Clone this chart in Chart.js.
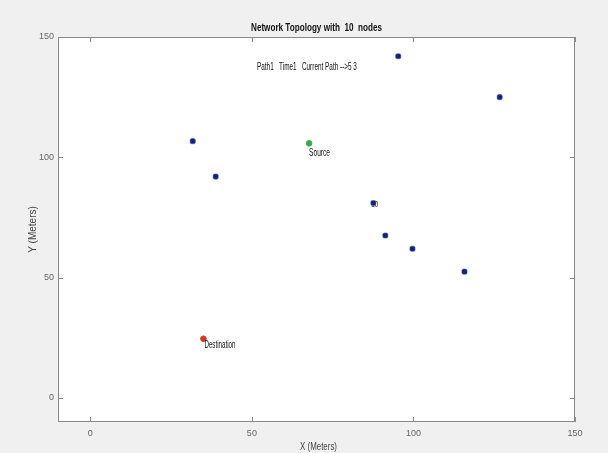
<!DOCTYPE html>
<html>
<head>
<meta charset="utf-8">
<script src="https://cdn.jsdelivr.net/npm/chart.js@4"></script>
<style>
    html, body { margin: 0; padding: 0; background: #f0f0f0; }
    #wrap { width: 608px; height: 453px; }
</style>
</head>
<body>
<div id="wrap"><canvas id="chart1"></canvas></div>

<script>
    // node positions (meters)
    const nodeX = [95.3, 126.7, 31.7, 38.8, 87.6, 91.3, 99.7, 115.8];
    const nodeY = [142, 125, 106.7, 92, 81, 67.5, 62, 52.5];
    const source = [67.7, 105.8];
    const destination = [35, 24.6];
    const xTicks = [0, 50, 100, 150];
    const yTicks = [0, 50, 100, 150];
    const titleText = 'Network Topology with  10  nodes';
    const pathText = 'Path1   Time1   Current Path -->5 3';

    const sans = '"Liberation Sans", Arial, sans-serif';

    // matlab figures use a narrow font, squeeze it horizontally
    function narrowText(ctx, text, x, y, font, sx, align) {
        ctx.save();
        ctx.font = font;
        ctx.textBaseline = 'middle';
        ctx.textAlign = align || 'left';
        ctx.translate(x, y);
        ctx.scale(sx, 1);
        ctx.fillText(text, 0, 0);
        ctx.restore();
    }

    // frame, white axes box, inward ticks, titles and text labels
    const matlabLook = {
        id: 'matlabLook',
        beforeDraw(chart) {
            const { ctx, chartArea: a } = chart;
            ctx.save();
            ctx.fillStyle = '#f0f0f0';
            ctx.fillRect(0, 0, chart.width, chart.height);
            ctx.fillStyle = '#ffffff';
            ctx.fillRect(a.left, a.top, a.right - a.left, a.bottom - a.top);
            ctx.restore();
        },
        beforeDatasetsDraw(chart) {
            const { ctx, scales: { x, y } } = chart;
            // node label "10", mostly hidden under its marker
            ctx.fillStyle = '#333';
            narrowText(ctx, '10', x.getPixelForValue(nodeX[4]) - 2, y.getPixelForValue(nodeY[4]) + 1, '9px ' + sans, 0.7);
        },
        afterDraw(chart) {
            const { ctx, chartArea: a, scales: { x, y } } = chart;
            ctx.save();
            ctx.strokeStyle = '#8a8a8a';
            ctx.lineWidth = 1;
            ctx.strokeRect(a.left + 0.5, a.top + 0.5, a.right - a.left - 1, a.bottom - a.top - 1);
            ctx.beginPath();
            xTicks.forEach(v => {
                const px = Math.round(x.getPixelForValue(v)) + 0.5;
                ctx.moveTo(px, a.bottom); ctx.lineTo(px, a.bottom - 5);
                ctx.moveTo(px, a.top); ctx.lineTo(px, a.top + 5);
            });
            yTicks.forEach(v => {
                const py = Math.round(y.getPixelForValue(v)) + 0.5;
                ctx.moveTo(a.left, py); ctx.lineTo(a.left + 5, py);
                ctx.moveTo(a.right, py); ctx.lineTo(a.right - 5, py);
            });
            ctx.stroke();

            ctx.fillStyle = '#111';
            narrowText(ctx, titleText, (a.left + a.right) / 2, 28, 'bold 11px ' + sans, 0.74, 'center');

            ctx.fillStyle = '#444';
            narrowText(ctx, 'X (Meters)', (a.left + a.right) / 2 + 2, 447, '11px ' + sans, 0.72, 'center');
            ctx.save();
            ctx.translate(33, (a.top + a.bottom) / 2);
            ctx.rotate(-Math.PI / 2);
            ctx.font = '10px ' + sans;
            ctx.textAlign = 'center';
            ctx.textBaseline = 'middle';
            ctx.fillText('Y (Meters)', 0, 0);
            ctx.restore();

            ctx.fillStyle = '#111';
            narrowText(ctx, pathText, 257, y.getPixelForValue(137.5), '10px ' + sans, 0.64);
            narrowText(ctx, 'Source', x.getPixelForValue(source[0]), y.getPixelForValue(source[1]) + 10, '10px ' + sans, 0.66);
            narrowText(ctx, 'Destination', x.getPixelForValue(destination[0]) + 1, y.getPixelForValue(destination[1]) + 7, '10px ' + sans, 0.62);
            ctx.restore();
        }
    };

    const ctx = document.getElementById('chart1');

    new Chart(ctx, {
        type: 'scatter',
        data: {
            datasets: [{
                data: nodeX.map((v, i) => ({ x: v, y: nodeY[i] })),
                backgroundColor: '#1b1b7e',
                borderColor: '#3a6fa0',
                borderWidth: 0.6,
                pointStyle: 'rectRounded',
                pointRadius: 3
            }, {
                data: [{ x: source[0], y: source[1] }],
                backgroundColor: '#3aa84e',
                borderColor: '#3aa84e',
                pointRadius: 2.8
            }, {
                data: [{ x: destination[0], y: destination[1] }],
                backgroundColor: '#d8322e',
                borderColor: '#d8322e',
                pointRadius: 2.8
            }]
        },
        options: {
            responsive: true,
            maintainAspectRatio: false,
            animation: false,
            layout: { padding: { top: 37, right: 33, left: 0, bottom: 0 } },
            plugins: {
                legend: { display: false },
                tooltip: { enabled: false }
            },
            scales: {
                x: {
                    type: 'linear',
                    min: -10,
                    max: 150,
                    afterBuildTicks: s => { s.ticks = xTicks.map(v => ({ value: v })); },
                    afterFit: s => { s.height = 31; },
                    grid: { display: false, drawTicks: false },
                    border: { display: false },
                    ticks: {
                        padding: 6,
                        color: '#666',
                        font: { size: 9, family: sans }
                    }
                },
                y: {
                    type: 'linear',
                    min: -10,
                    max: 150,
                    afterBuildTicks: s => { s.ticks = yTicks.map(v => ({ value: v })); },
                    afterFit: s => { s.width = 58; },
                    grid: { display: false, drawTicks: false },
                    border: { display: false },
                    ticks: {
                        padding: 4,
                        color: '#666',
                        font: { size: 9, family: sans }
                    }
                }
            }
        },
        plugins: [matlabLook]
    });
</script>
</body>
</html>
